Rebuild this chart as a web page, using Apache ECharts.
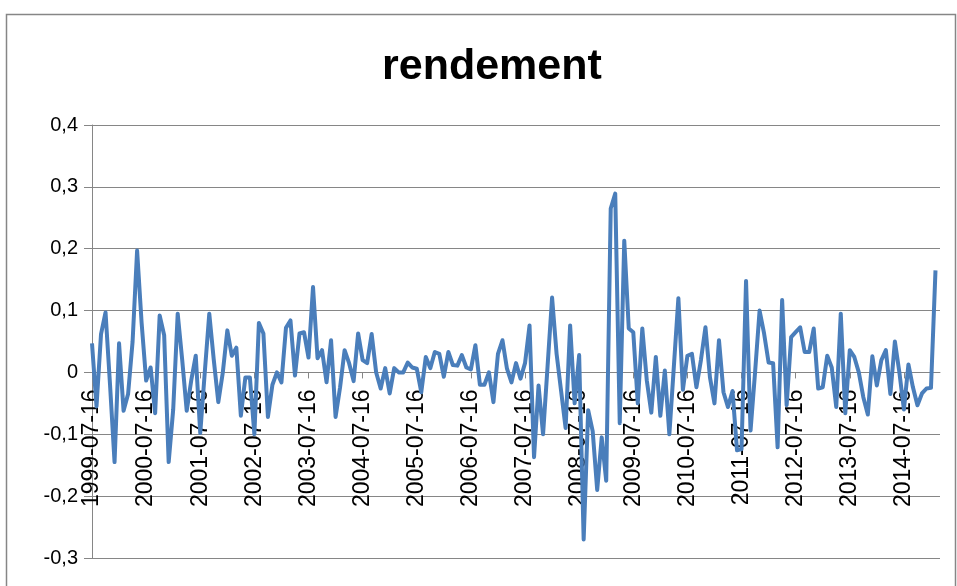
<!DOCTYPE html>
<html>
<head>
<meta charset="utf-8">
<script src="https://cdn.jsdelivr.net/npm/echarts@6/dist/echarts.min.js"></script>
<style>html,body{margin:0;padding:0;background:#fff;}#c{width:957px;height:586px;}</style>
</head>
<body>
<div id="c"></div>
<script>
// Monthly categories start (one label per year)
const startYear = 1999;
const startMonth = 7;
const startDay = 16;
const categoryCount = 189; // 188 observations + one trailing empty slot
const tickLabelEvery = 12;

const yTicks = [-0.3, -0.2, -0.1, 0, 0.1, 0.2, 0.3, 0.4];

// rendement values (monthly)
const rendement = [
  0.047, -0.055, 0.062, 0.097, -0.02, -0.145, 0.047, -0.062, -0.035, 0.05, 0.197, 0.08,
  -0.013, 0.008, -0.066, 0.092, 0.06, -0.145, -0.06, 0.095, 0.02, -0.062, -0.013, 0.027,
  -0.098, 0.0, 0.095, 0.02, -0.048, 0.0, 0.068, 0.027, 0.04, -0.07, -0.008, -0.008,
  -0.1, 0.08, 0.063, -0.072, -0.02, 0.0, -0.016, 0.072, 0.084, -0.005, 0.063, 0.065,
  0.024, 0.138, 0.023, 0.036, -0.016, 0.052, -0.072, -0.024, 0.036, 0.015, -0.014, 0.063,
  0.02, 0.015, 0.062, 0.0, -0.026, 0.007, -0.034, 0.007, 0.0, 0.0, 0.016, 0.008,
  0.006, -0.032, 0.025, 0.007, 0.033, 0.03, -0.007, 0.033, 0.012, 0.011, 0.028, 0.008,
  0.005, 0.044, -0.02, -0.02, 0.0, -0.048, 0.03, 0.052, 0.006, -0.016, 0.015, -0.01,
  0.015, 0.076, -0.137, -0.021, -0.1, 0.01, 0.121, 0.03, -0.03, -0.09, 0.076, -0.05,
  0.028, -0.27, -0.061, -0.095, -0.19, -0.105, -0.175, 0.265, 0.289, -0.082, 0.213, 0.071,
  0.065, -0.05, 0.071, -0.013, -0.065, 0.025, -0.07, 0.003, -0.1, 0.01, 0.12, -0.028,
  0.027, 0.03, -0.024, 0.02, 0.073, -0.008, -0.05, 0.052, -0.032, -0.056, -0.03, -0.126,
  -0.124, 0.148, -0.094, 0.0, 0.1, 0.063, 0.016, 0.015, -0.121, 0.117, -0.053, 0.057,
  0.065, 0.073, 0.033, 0.033, 0.071, -0.026, -0.024, 0.027, 0.008, -0.056, 0.095, -0.066,
  0.036, 0.025, 0.0, -0.04, -0.068, 0.026, -0.021, 0.02, 0.036, -0.035, 0.05, 0.0,
  -0.06, 0.013, -0.024, -0.053, -0.034, -0.026, -0.025, 0.165
];

const categories = [];
for (let i = 0; i < categoryCount; i++) {
  const m0 = startMonth - 1 + i;
  const y = startYear + Math.floor(m0 / 12);
  const m = (m0 % 12) + 1;
  categories.push(y + '-' + String(m).padStart(2, '0') + '-' + String(startDay).padStart(2, '0'));
}

const grey = '#868686';
const fontFam = '"Liberation Sans", Arial, sans-serif';

const gridTop = 125, gridBottom = 28, chartH = 586;
const plotH = chartH - gridTop - gridBottom;
const yMin = yTicks[0], yMax = yTicks[yTicks.length - 1];
const zeroOffset = -plotH * (0 - yMin) / (yMax - yMin); // lift the category axis to the 0 line

const chart = echarts.init(document.getElementById('c'), null, {renderer: 'canvas'});
chart.setOption({
  animation: false,
  backgroundColor: '#fff',
  title: {
    text: 'rendement',
    left: 377,
    top: 41,
    textStyle: {fontFamily: fontFam, fontWeight: 'bold', fontSize: 43, color: '#000'}
  },
  graphic: [{
    type: 'rect', left: 4, top: 12,
    shape: {width: 949, height: 600},
    style: {fill: 'none', stroke: grey, lineWidth: 1.5}, silent: true
  }],
  grid: {left: 92, right: 17, top: gridTop, bottom: gridBottom, containLabel: false, outerBoundsMode: 'none'},
  xAxis: {
    type: 'category',
    data: categories,
    boundaryGap: false,
    offset: zeroOffset,
    z: 0,
    axisLine: {onZero: false, lineStyle: {color: grey, width: 1}},
    axisTick: {show: true, length: 6, interval: (i) => i % tickLabelEvery === 0, lineStyle: {color: grey}},
    axisLabel: {
      rotate: 90, margin: 17,
      interval: (i) => i % tickLabelEvery === 0,
      hideOverlap: false,
      fontFamily: fontFam, fontSize: 23, color: '#000'
    },
    splitLine: {show: false}
  },
  yAxis: {
    type: 'value',
    min: yMin, max: yMax, interval: 0.1,
    axisLine: {show: true, lineStyle: {color: grey, width: 1}},
    axisTick: {show: true, length: 8, lineStyle: {color: grey}},
    axisLabel: {
      margin: 14, fontFamily: fontFam, fontSize: 20, color: '#000',
      formatter: (v) => {
        const r = Math.round(v * 10) / 10;
        if (r === 0) return '0';
        return r.toFixed(1).replace('.', ',');
      }
    },
    splitLine: {show: true, lineStyle: {color: grey, width: 1}}
  },
  series: [{
    type: 'line',
    z: 5,
    data: rendement,
    symbol: 'none',
    smooth: false,
    lineStyle: {color: '#4A7EBB', width: 4, join: 'round'},
    itemStyle: {color: '#4A7EBB'}
  }]
});
</script>
</body>
</html>
